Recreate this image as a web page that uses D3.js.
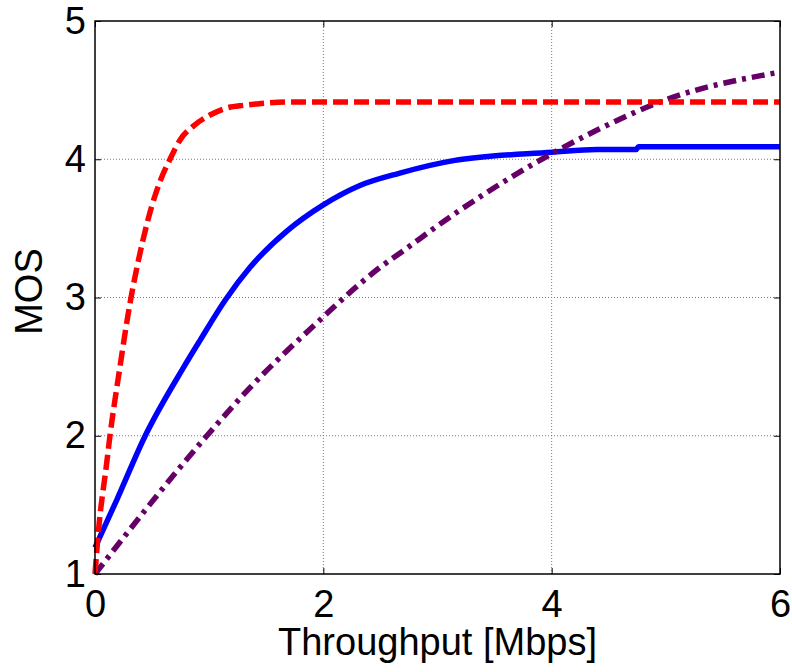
<!DOCTYPE html>
<html>
<head>
<meta charset="utf-8">
<script src="https://cdn.jsdelivr.net/npm/d3@7"></script>
<style>
  html, body { margin: 0; padding: 0; background: #fff; }
  svg { display: block; font-family: "Liberation Sans", Arial, sans-serif; }
</style>
</head>
<body>
<svg id="chart" width="792" height="672"></svg>
<script>
// values
const redThroughput = [0, 0.029, 0.102, 0.131, 0.175, 0.219, 0.263, 0.307, 0.394, 0.497, 0.584, 0.657, 0.745, 0.861, 1.007, 1.15, 1.3, 1.42, 1.7, 6];
const redMos        = [1.0, 1.3, 1.8, 2.0, 2.26, 2.5, 2.74, 2.96, 3.32, 3.66, 3.87, 4.0, 4.14, 4.24, 4.32, 4.37, 4.39, 4.40, 4.415, 4.415];

const blueThroughput = [0, 0.19, 0.44, 0.78, 0.92, 1.14, 1.36, 1.68, 2.0, 2.32, 2.67, 3.14, 4.0, 4.4, 4.74, 4.76, 6];
const blueMos        = [1.19, 1.535, 2.0, 2.5, 2.69, 2.98, 3.22, 3.48, 3.67, 3.81, 3.9, 3.99, 4.05, 4.07, 4.07, 4.09, 4.09];

const purpleThroughput = [0, 0.98, 1.36, 2.0, 2.17, 2.5, 2.67, 3.14, 4.0, 4.42, 5.0, 6.0];
const purpleMos        = [1.0, 2.0, 2.35, 2.86, 2.99, 3.22, 3.32, 3.6, 4.04, 4.22, 4.43, 4.63];

const xTicks = [0, 2, 4, 6];
const yTicks = [1, 2, 3, 4, 5];
const xLabel = "Throughput [Mbps]";
const yLabel = "MOS";

const width = 792;
const height = 672;
const margin = { top: 21, right: 12, bottom: 98, left: 95 };

const svg = d3.select("#chart");

const x = d3.scaleLinear().domain([0, 6]).range([margin.left, width - margin.right]);
const y = d3.scaleLinear().domain([1, 5]).range([height - margin.bottom, margin.top]);

// grid
const grid = svg.append("g")
  .attr("stroke", "#7a7a7a")
  .attr("stroke-width", 1)
  .attr("stroke-dasharray", "1,2");

grid.selectAll("line.gx")
  .data(xTicks.filter((d) => d > 0 && d < 6))
  .join("line")
  .attr("class", "gx")
  .attr("x1", (d) => x(d)).attr("x2", (d) => x(d))
  .attr("y1", y(1)).attr("y2", y(5));

grid.selectAll("line.gy")
  .data(yTicks.filter((d) => d > 1 && d < 5))
  .join("line")
  .attr("class", "gy")
  .attr("y1", (d) => y(d)).attr("y2", (d) => y(d))
  .attr("x1", x(0)).attr("x2", x(6));

// curves
const line = d3.line()
  .x((d) => x(d[0]))
  .y((d) => y(d[1]))
  .curve(d3.curveMonotoneX);

const series = [
  { xs: blueThroughput, ys: blueMos, color: "#0000ff", dash: null },
  { xs: purpleThroughput, ys: purpleMos, color: "#660066", dash: "13,6,4,6" },
  { xs: redThroughput, ys: redMos, color: "#ff0000", dash: "15,6" }
];

svg.append("g")
  .selectAll("path")
  .data(series)
  .join("path")
  .attr("d", (s) => line(s.xs.map((v, i) => [v, s.ys[i]])))
  .attr("fill", "none")
  .attr("stroke", (s) => s.color)
  .attr("stroke-width", 5.5)
  .attr("stroke-dasharray", (s) => s.dash);

// axes (MATLAB style: ticks inward, box around)
const tickLen = 6;
const fmt = d3.format("d");

svg.append("g")
  .attr("transform", `translate(0,${y(1)})`)
  .call(d3.axisBottom(x).tickValues(xTicks).tickSize(-tickLen).tickPadding(16).tickFormat(fmt))
  .call((g) => g.select(".domain").remove())
  .call((g) => g.selectAll("text").attr("font-size", 38).attr("fill", "#000").attr("font-family", "Liberation Sans, Arial, sans-serif"));

svg.append("g")
  .attr("transform", `translate(${x(0)},0)`)
  .call(d3.axisLeft(y).tickValues(yTicks).tickSize(-tickLen).tickPadding(9).tickFormat(fmt))
  .call((g) => g.select(".domain").remove())
  .call((g) => g.selectAll("text").attr("font-size", 38).attr("fill", "#000").attr("font-family", "Liberation Sans, Arial, sans-serif"));

svg.append("g")
  .attr("transform", `translate(0,${y(5)})`)
  .call(d3.axisTop(x).tickValues(xTicks).tickSize(-tickLen).tickFormat(""))
  .call((g) => g.select(".domain").remove());

svg.append("g")
  .attr("transform", `translate(${x(6)},0)`)
  .call(d3.axisRight(y).tickValues(yTicks).tickSize(-tickLen).tickFormat(""))
  .call((g) => g.select(".domain").remove());

svg.append("rect")
  .attr("x", x(0)).attr("y", y(5))
  .attr("width", x(6) - x(0)).attr("height", y(1) - y(5))
  .attr("fill", "none")
  .attr("stroke", "#000")
  .attr("stroke-width", 1.5);

// labels
svg.append("text")
  .attr("x", (x(0) + x(6)) / 2)
  .attr("y", 655)
  .attr("text-anchor", "middle")
  .attr("font-size", 38)
  .text(xLabel);

svg.append("text")
  .attr("transform", `translate(42,${(y(1) + y(5)) / 2 - 6}) rotate(-90)`)
  .attr("text-anchor", "middle")
  .attr("font-size", 38)
  .text(yLabel);
</script>
</body>
</html>
